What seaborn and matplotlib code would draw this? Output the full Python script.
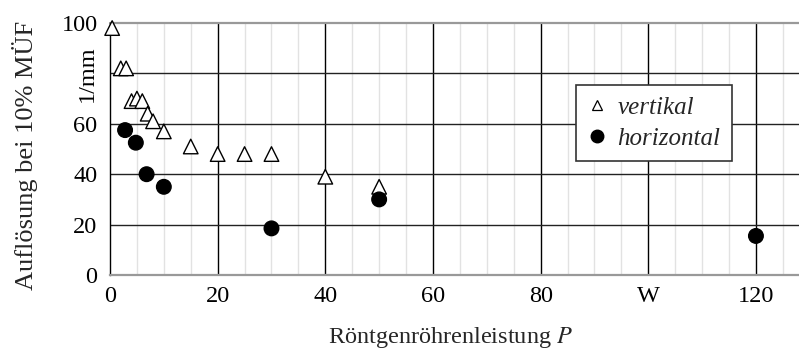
import numpy as np
import pandas as pd
import matplotlib
matplotlib.use("Agg")
import matplotlib.pyplot as plt
from matplotlib.lines import Line2D
import seaborn as sns

# Measured resolution at 10% MTF versus tube power
vert_power = [0.4, 2, 3, 4, 5, 6, 7, 8, 10, 15, 20, 25, 30, 40, 50]
vert_res = [98, 82, 82, 69, 70, 69, 64, 61, 57, 51, 48, 48, 48, 39, 35]
horiz_power = [2.8, 4.8, 6.8, 10, 30, 50, 120]
horiz_res = [57.5, 52.5, 40, 35, 18.5, 30, 15.5]

x_ticks = [0, 20, 40, 60, 80, 100, 120]
x_tick_labels = ["0", "20", "40", "60", "80", "W", "120"]
y_ticks = [0, 20, 40, 60, 80, 100]
y_tick_labels = ["0", "20", "40", "60", "1/mm", "100"]

df = pd.concat([
    pd.DataFrame({"P": vert_power, "res": vert_res, "Richtung": "vertikal"}),
    pd.DataFrame({"P": horiz_power, "res": horiz_res, "Richtung": "horizontal"}),
])

sns.set_theme(style="white")
plt.rcParams["font.family"] = ["Liberation Serif", "DejaVu Serif"]
plt.rcParams["mathtext.fontset"] = "stix"

W, H = 799, 353
L, R, T, B = 110, 799, 23, 275
fig = plt.figure(figsize=(W / 100, H / 100), dpi=100)
ax = fig.add_axes([L / W, 1 - B / H, (R - L) / W, (B - T) / H])

# grid: light minor verticals every 5, dark major lines
for xv in np.arange(5, 130, 5):
    if xv % 20 != 0:
        ax.axvline(xv, color="#e2e2e2", lw=1.0, zorder=0)
for xv in range(20, 130, 20):
    ax.axvline(xv, color="black", lw=1.0, zorder=0.5)
for yv in [20, 40, 60, 80]:
    ax.axhline(yv, color="#222222", lw=1.0, zorder=0.5)
ax.axhline(100, color="#999999", lw=1.6, zorder=0.5, clip_on=False)

sns.scatterplot(
    data=df, x="P", y="res", hue="Richtung", style="Richtung",
    markers={"vertikal": "^", "horizontal": "o"},
    palette={"vertikal": "white", "horizontal": "black"},
    linewidth=1.0, s=110, legend=False, ax=ax, zorder=3, clip_on=False,
)
for coll in ax.collections:
    coll.set_edgecolor("black")

ax.set_xlim(0, 128)
ax.set_ylim(0, 100)
ax.set_xticks(x_ticks)
ax.set_xticklabels(x_tick_labels)
ax.set_yticks(y_ticks)
ax.set_yticklabels(y_tick_labels)
for lbl in ax.get_yticklabels():
    if lbl.get_text() == "1/mm":
        lbl.set_rotation(90)
        lbl.set_va("center")
ax.tick_params(axis="both", length=0, labelsize=17.5, colors="black")
ax.tick_params(axis="y", pad=9)
ax.tick_params(axis="x", pad=8)

for side in ["top", "right"]:
    ax.spines[side].set_visible(False)
ax.spines["left"].set_color("black")
ax.spines["left"].set_linewidth(1.0)
ax.spines["bottom"].set_color("#999999")
ax.spines["bottom"].set_linewidth(1.6)

ax.set_xlabel("Röntgenröhrenleistung $\\it{P}$", fontsize=17.5)
ax.set_ylabel("Auflösung bei 10% MÜF", fontsize=19)
ax.xaxis.set_label_coords((450 - L) / (R - L), -(325 - B) / (B - T))
ax.yaxis.set_label_coords(-(L - 38) / (R - L), (B - 155) / (B - T))

# legend box
handles = [
    Line2D([], [], marker="^", ls="", markerfacecolor="white",
           markeredgecolor="black", markersize=7, markeredgewidth=0.9),
    Line2D([], [], marker="o", ls="", markerfacecolor="black",
           markeredgecolor="black", markersize=9),
]
leg = ax.legend(
    handles, ["vertikal", "horizontal"], loc="upper left",
    bbox_to_anchor=((576 - L) / (R - L), (B - 85) / (B - T)),
    frameon=True, fancybox=False, shadow=False, handletextpad=0.4,
    prop={"style": "italic", "size": 18}, borderpad=0.45, labelspacing=0.35,
    handlelength=0.8, borderaxespad=0,
)
frame = leg.get_frame()
frame.set_edgecolor("#333333")
frame.set_linewidth(1.2)
frame.set_facecolor("white")
frame.set_alpha(1)

fig.savefig("out.png", dpi=100)
